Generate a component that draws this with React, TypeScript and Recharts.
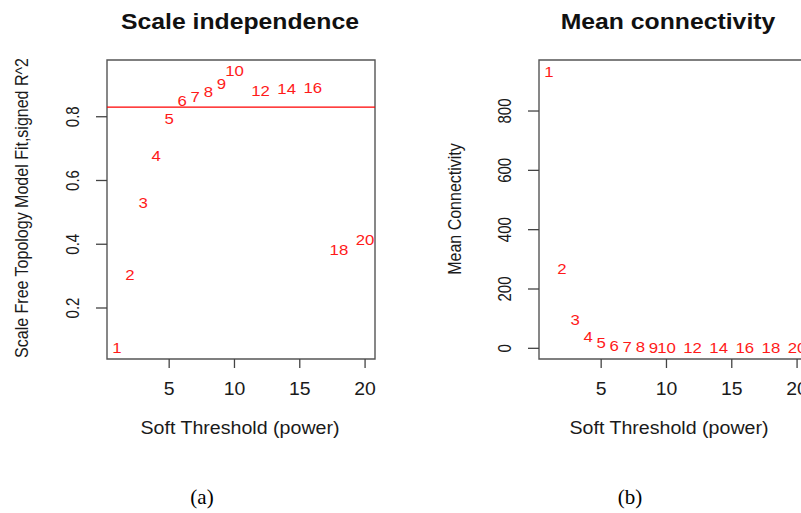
import { ScatterChart, Scatter, XAxis, YAxis, ReferenceArea, ReferenceLine } from "recharts";

const powers = [1, 2, 3, 4, 5, 6, 7, 8, 9, 10, 12, 14, 16, 18, 20];
const signedR2 = [0.073, 0.305, 0.53, 0.677, 0.794, 0.848, 0.862, 0.879, 0.904, 0.942, 0.88, 0.888, 0.891, 0.382, 0.414];
const meanK = [932, 267, 95, 37, 17, 8, 5, 3, 2, 1.5, 0.8, 0.5, 0.3, 0.2, 0.1];
const xTicks = [5, 10, 15, 20];
const r2Ticks = [0.2, 0.4, 0.6, 0.8];
const kTicks = [0, 200, 400, 600, 800];
const cutoff = 0.83;

const FONT = "'Liberation Sans', Arial, Helvetica, sans-serif";
const X_DOMAIN: [number, number] = [0.24, 20.76];

const r2Data = powers.map((p, i) => ({ power: p, v: signedR2[i] }));
const kData = powers.map((p, i) => ({ power: p, v: meanK[i] }));

// R output here is stretched sideways, so glyphs get a little horizontal scale
function RotTick(props: any) {
  const { x, y, payload } = props;
  const bx = x - 15.5;
  return (
    <text
      x={0}
      y={0}
      transform={`translate(${bx}, ${y}) scale(1.25, 1) rotate(-90)`}
      textAnchor="middle"
      fontSize={15}
      fontFamily={FONT}
      fill="#1a1a1a"
    >
      {payload.value}
    </text>
  );
}

function XTick(props: any) {
  const { x, y, payload } = props;
  return (
    <text x={0} y={0} dy="0.71em" transform={`translate(${x}, ${y}) scale(1.05, 1)`} textAnchor="middle" fontSize={18.5} fontFamily={FONT} fill="#1a1a1a">
      {payload.value}
    </text>
  );
}

function NumLabel(props: any) {
  const { cx, cy, payload } = props;
  return (
    <text
      x={0}
      y={0}
      transform={`translate(${cx}, ${cy}) scale(1.2, 1)`}
      textAnchor="middle"
      dominantBaseline="central"
      fontSize={14}
      fontFamily={FONT}
      fill="#ff1a1a"
    >
      {payload.power}
    </text>
  );
}

function Panel({ data, domain, ticks, line }: { data: any[]; domain: [number, number]; ticks: number[]; line?: number }) {
  return (
    <ScatterChart width={400} height={513} margin={{ top: 60, right: 25, bottom: 114, left: 0 }}>
      <XAxis
        type="number"
        dataKey="power"
        domain={X_DOMAIN}
        ticks={xTicks}
        allowDataOverflow
        axisLine={false}
        tickLine={{ stroke: "#444", strokeWidth: 1.3 }}
        tickSize={9}
        tickMargin={14}
        height={40}
        tick={<XTick />}
      />
      <YAxis
        type="number"
        dataKey="v"
        domain={domain}
        ticks={ticks}
        allowDataOverflow
        axisLine={false}
        tickLine={{ stroke: "#444", strokeWidth: 1.3 }}
        tickSize={11}
        tickMargin={2}
        width={107}
        tick={<RotTick />}
      />
      <ReferenceArea
        x1={X_DOMAIN[0]}
        x2={X_DOMAIN[1]}
        y1={domain[0]}
        y2={domain[1]}
        fill="none"
        stroke="#555"
        strokeWidth={1.4}
        ifOverflow="visible"
      />
      {line !== undefined && <ReferenceLine y={line} stroke="#ff0000" strokeWidth={1.3} />}
      <Scatter data={data} shape={NumLabel} isAnimationActive={false} />
    </ScatterChart>
  );
}

const abs = (cx: number, cy: number, extra: any = {}): any => ({
  position: "absolute",
  left: cx,
  top: cy,
  transform: `translate(-50%, -50%)${extra.rotate ? " scale(1.2, 1) rotate(-90deg)" : ""}${extra.sx ? ` scale(${extra.sx}, 1)` : ""}`,
  whiteSpace: "nowrap",
  lineHeight: 1,
  fontFamily: FONT,
  color: "#1a1a1a",
  ...extra.style,
});

export default function App() {
  const titleStyle = { fontSize: 22.5, fontWeight: "bold", color: "#111" };
  const serif = { fontSize: 21, fontFamily: "'Liberation Serif', 'DejaVu Serif', serif", color: "#000" };
  return (
    <div style={{ position: "absolute", left: 0, top: 0, width: 801, height: 513, overflow: "hidden", background: "#fff" }}>
      <div style={{ position: "absolute", left: 0, top: 0 }}>
        <Panel data={r2Data} domain={[0.04, 0.978]} ticks={r2Ticks} line={cutoff} />
      </div>
      <div style={{ position: "absolute", left: 432, top: 0 }}>
        <Panel data={kData} domain={[-36, 972]} ticks={kTicks} />
      </div>

      <div style={abs(240, 22, { sx: 1.1, style: titleStyle })}>Scale independence</div>
      <div style={abs(668, 22, { sx: 1.1, style: titleStyle })}>Mean connectivity</div>

      <div style={abs(240, 429, { sx: 1.12, style: { fontSize: 17.5 } })}>Soft Threshold (power)</div>
      <div style={abs(669, 429, { sx: 1.12, style: { fontSize: 17.5 } })}>Soft Threshold (power)</div>

      <div style={abs(22, 208, { rotate: true, style: { fontSize: 16 } })}>Scale Free Topology Model Fit,signed R^2</div>
      <div style={abs(455, 209, { rotate: true, style: { fontSize: 16 } })}>Mean Connectivity</div>

      <div style={abs(202, 497, { style: serif })}>(a)</div>
      <div style={abs(630, 497, { style: serif })}>(b)</div>
    </div>
  );
}
